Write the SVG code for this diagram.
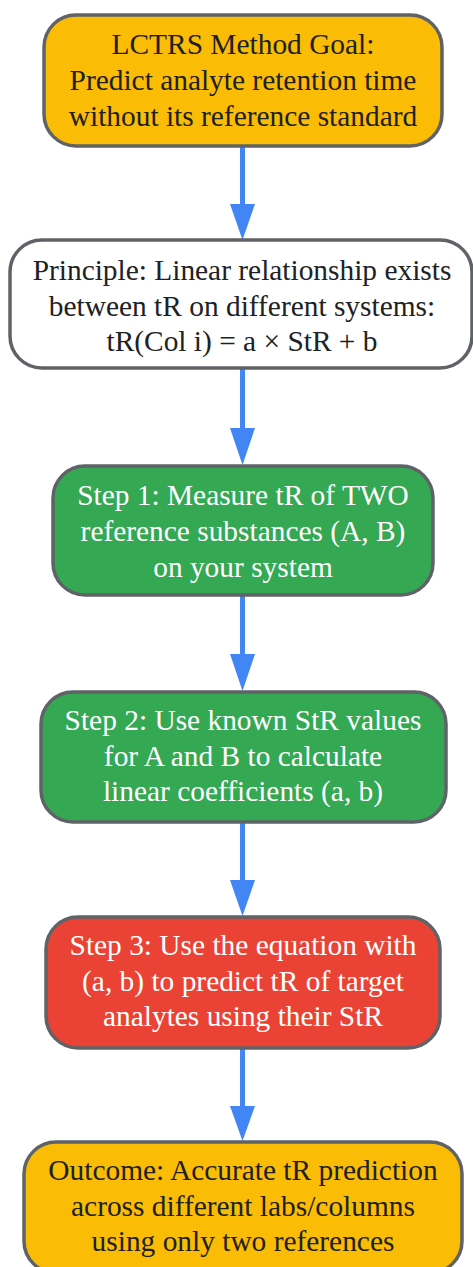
<svg xmlns="http://www.w3.org/2000/svg" width="473" height="1267" viewBox="0 0 473 1267">
<defs>
<style>
.box{stroke:#5f6368;stroke-width:3.5}
.y{fill:#FBBC05}.w{fill:#ffffff}.g{fill:#34A853}.r{fill:#EA4335}
text{font-family:"Liberation Serif","Times New Roman",serif;font-size:29.4px;text-anchor:middle}
.dk{fill:#202124}.lt{fill:#ffffff}
.edge{stroke:#4285F4;stroke-width:5;fill:none}
.head{fill:#4285F4}
</style>
</defs>
<rect width="473" height="1267" fill="#ffffff"/>
<g id="connectors">
<line class="edge" x1="242.5" y1="146" x2="242.5" y2="206"/><polygon class="head" points="230,204 255,204 242.5,240"/>
<line class="edge" x1="242.5" y1="368" x2="242.5" y2="430"/><polygon class="head" points="230,428 255,428 242.5,465"/>
<line class="edge" x1="242.5" y1="596" x2="242.5" y2="656"/><polygon class="head" points="230,654 255,654 242.5,691"/>
<line class="edge" x1="242.5" y1="822" x2="242.5" y2="882"/><polygon class="head" points="230,880 255,880 242.5,916"/>
<line class="edge" x1="242.5" y1="1048" x2="242.5" y2="1108"/><polygon class="head" points="230,1106 255,1106 242.5,1141"/>
</g>
<g id="goal">
<rect class="box y" x="44" y="15" width="398" height="131" rx="32"/>
<text class="dk" x="243" y="54">LCTRS Method Goal:</text>
<text class="dk" x="243" y="90">Predict analyte retention time</text>
<text class="dk" x="243" y="126">without its reference standard</text>
</g>
<g id="principle">
<rect class="box w" x="10" y="240" width="462" height="128" rx="32"/>
<text class="dk" x="242" y="280">Principle: Linear relationship exists</text>
<text class="dk" x="242" y="316">between tR on different systems:</text>
<text class="dk" x="242" y="351">tR(Col i) = a × StR + b</text>
</g>
<g id="step1">
<rect class="box g" x="53" y="466" width="380" height="129" rx="32"/>
<text class="lt" x="243" y="505">Step 1: Measure tR of TWO</text>
<text class="lt" x="243" y="541">reference substances (A, B)</text>
<text class="lt" x="243" y="577">on your system</text>
</g>
<g id="step2">
<rect class="box g" x="41" y="692" width="405" height="130" rx="32"/>
<text class="lt" x="243" y="730">Step 2: Use known StR values</text>
<text class="lt" x="243" y="766">for A and B to calculate</text>
<text class="lt" x="243" y="801">linear coefficients (a, b)</text>
</g>
<g id="step3">
<rect class="box r" x="46" y="917" width="394" height="131" rx="32"/>
<text class="lt" x="243" y="955">Step 3: Use the equation with</text>
<text class="lt" x="243" y="991">(a, b) to predict tR of target</text>
<text class="lt" x="243" y="1026">analytes using their StR</text>
</g>
<g id="outcome">
<rect class="box y" x="24" y="1142" width="438" height="131" rx="32"/>
<text class="dk" x="243" y="1180">Outcome: Accurate tR prediction</text>
<text class="dk" x="243" y="1216">across different labs/columns</text>
<text class="dk" x="243" y="1251">using only two references</text>
</g>
</svg>
